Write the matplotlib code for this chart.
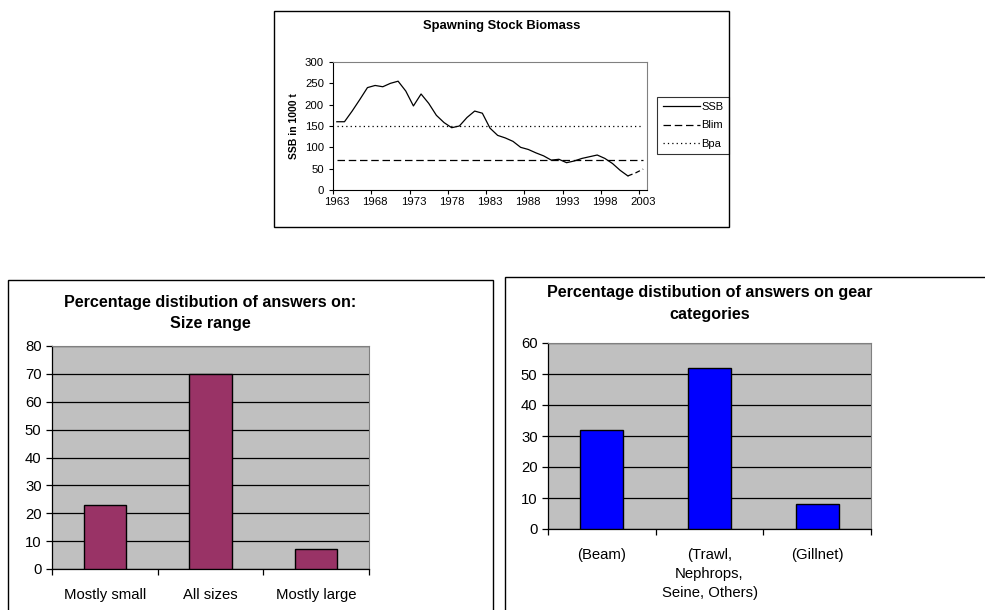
import numpy as np
import matplotlib.pyplot as plt
from matplotlib.patches import Rectangle

plt.rcParams['font.family'] = ['Liberation Sans', 'DejaVu Sans']

# --- spawning stock biomass (1000 t) ---
years = list(range(1963, 2002))
ssb = [160, 160, 185, 212, 240, 245, 242, 250, 255, 232,
       197, 225, 203, 175, 158, 146, 150, 170, 185, 180,
       145, 128, 122, 114, 100, 95, 87, 80, 70, 72,
       64, 68, 74, 78, 82, 74, 62, 46, 33]
proj_years = [2001, 2002, 2003]
proj_ssb = [33, 40, 49]
ref_years = list(range(1963, 2004))
blim = 70
bpa = 150

# --- survey answers (%) ---
size_labels = ['Mostly small', 'All sizes', 'Mostly large']
size_pct = [23, 70, 7]
gear_labels = ['(Beam)', '(Trawl,\nNephrops,\nSeine, Others)', '(Gillnet)']
gear_pct = [32, 52, 8]

fig = plt.figure(figsize=(9.85, 6.10), dpi=100)
W, H = 985, 610


def px_axes(x0, y0, x1, y1):
    return fig.add_axes([x0 / W, 1 - y1 / H, (x1 - x0) / W, (y1 - y0) / H])


def frame(x0, y0, x1, y1, lw=1.0):
    fig.patches.append(Rectangle((x0 / W, 1 - y1 / H), (x1 - x0) / W, (y1 - y0) / H,
                                 transform=fig.transFigure, fill=False,
                                 edgecolor='black', linewidth=lw, zorder=0))


# outer boxes
frame(274, 11, 729, 227)
frame(8, 280, 493, 640)
frame(505, 277, 1000, 640)

# ---------------- SSB line chart ----------------
ax = px_axes(333, 62, 647, 190)
ax.plot(years, ssb, color='black', lw=0.9, label='SSB')
ax.plot(proj_years, proj_ssb, color='black', lw=0.9, dashes=(4, 2.5))
ax.plot(ref_years, [blim] * len(ref_years), color='black', lw=0.9, dashes=(6, 3), label='Blim')
ax.plot(ref_years, [bpa] * len(ref_years), color='black', lw=0.9, dashes=(1, 2.5), label='Bpa')
ax.set_xlim(1962.5, 2003.5)
ax.set_ylim(0, 300)
ax.set_yticks(range(0, 301, 50))
ax.set_xticks([1962.5 + 5 * k for k in range(9)])
ax.set_xticklabels([])
ax.set_xticks(list(range(1963, 2004, 5)), minor=True)
ax.set_xticklabels([str(y) for y in range(1963, 2004, 5)], minor=True)
ax.tick_params(axis='both', which='major', length=3, width=0.8, labelsize=8.2, direction='out')
ax.tick_params(axis='x', which='minor', length=0, pad=5, labelsize=8.2)
for s in ['top', 'right']:
    ax.spines[s].set_color('#808080')
    ax.spines[s].set_linewidth(0.8)
ax.spines['left'].set_linewidth(0.8)
ax.spines['bottom'].set_linewidth(0.8)
ax.set_ylabel('SSB in 1000 t', fontsize=7.5, fontweight='bold', labelpad=4)
fig.text((274 + 729) / 2 / W, 1 - 26 / H, 'Spawning Stock Biomass', ha='center', va='center',
         fontsize=9.4, fontweight='bold')
leg = ax.legend(loc='center left', bbox_to_anchor=(657 / W, 1 - 125.5 / H),
                bbox_transform=fig.transFigure, fontsize=8, frameon=True, fancybox=False,
                edgecolor='black', handlelength=3.4, handletextpad=0.1, borderpad=0.5,
                labelspacing=0.75, borderaxespad=0)
leg.get_frame().set_linewidth(0.8)


# ---------------- bar charts ----------------
def bar_chart(box, labels, values, color, ymax, title_lines, title_y):
    bx = px_axes(*box)
    bx.set_facecolor('#C0C0C0')
    x = np.arange(len(labels))
    bx.yaxis.grid(True, color='black', lw=0.9)
    bx.set_axisbelow(True)
    bx.bar(x, values, width=0.4, color=color, edgecolor='black', linewidth=1.0, zorder=3)
    bx.set_xlim(-0.5, len(labels) - 0.5)
    bx.set_ylim(0, ymax)
    bx.set_yticks(range(0, ymax + 1, 10))
    bx.set_xticks([k - 0.5 for k in range(len(labels) + 1)])
    bx.set_xticklabels([])
    bx.set_xticks(x, minor=True)
    bx.set_xticklabels(labels, minor=True, linespacing=1.45)
    bx.tick_params(axis='x', which='minor', length=0, pad=14, labelsize=10.7)
    bx.tick_params(axis='both', which='major', length=4, width=0.9, labelsize=10.7, direction='out')
    for s in ['top', 'right']:
        bx.spines[s].set_color('#808080')
    bx.spines['left'].set_linewidth(0.9)
    bx.spines['bottom'].set_linewidth(0.9)
    for ty, line in zip(title_y, title_lines):
        fig.text((box[0] + box[2]) / 2 / W, 1 - ty / H, line, ha='center', va='center',
                 fontsize=11.6, fontweight='bold')
    return bx


bar_chart((52, 346, 369, 569), size_labels, size_pct, '#993366', 80,
          ['Percentage distibution of answers on:', 'Size range'], [303, 324])
bar_chart((548, 343, 871, 529), gear_labels, gear_pct, '#0000FF', 60,
          ['Percentage distibution of answers on gear', 'categories'], [293, 314])

fig.savefig('out.png', dpi=100)
